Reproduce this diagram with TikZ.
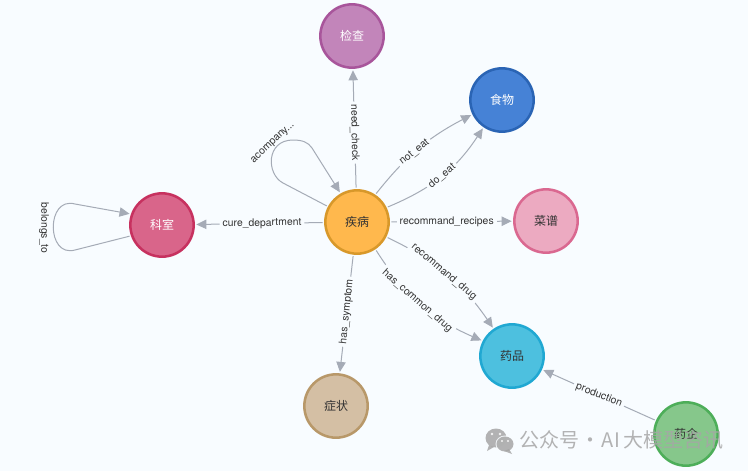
\documentclass[tikz,border=0pt]{standalone}
\usepackage{fontspec}
\setmainfont{TeX Gyre Heros}
\newfontfamily\cjk{Noto Sans CJK SC}
\usetikzlibrary{arrows.meta}
\definecolor{bgc}{HTML}{F8FCFF}
\definecolor{edgec}{HTML}{A5ABB6}
\definecolor{txtc}{HTML}{333333}
\definecolor{wmc}{HTML}{A6A6A6}
\definecolor{fdis}{HTML}{FFB84D}\definecolor{sdis}{HTML}{D8982A}
\definecolor{fjc}{HTML}{C285BA}\definecolor{sjc}{HTML}{A8559B}
\definecolor{fsw}{HTML}{4682D6}\definecolor{ssw}{HTML}{2A64B4}
\definecolor{fcp}{HTML}{ECAAC1}\definecolor{scp}{HTML}{DA6890}
\definecolor{fks}{HTML}{D9658A}\definecolor{sks}{HTML}{C7315F}
\definecolor{fyp}{HTML}{4DC0DF}\definecolor{syp}{HTML}{20A8D2}
\definecolor{fyq}{HTML}{86C78B}\definecolor{syq}{HTML}{4DAE59}
\definecolor{fzz}{HTML}{D4BFA4}\definecolor{szz}{HTML}{B89869}
\tikzset{
  ent/.style n args={3}{circle,draw=#2,fill=#1,line width=1.9pt,minimum size=47.5pt,inner sep=0pt,outer sep=2pt,text=#3,font=\cjk\fontsize{9}{11}\selectfont},
  rel/.style={draw=edgec,line width=0.75pt,-{Triangle[length=7.5pt,width=7pt]}},
  lab/.style={fill=bgc,inner sep=2.2pt,text=txtc,font=\fontsize{7.8}{9}\selectfont}
}
\begin{document}
\begin{tikzpicture}[x=0.75pt,y=-0.75pt]
\useasboundingbox[fill=bgc] (0,0) rectangle (748,471);
\node[ent={fdis}{sdis}{txtc}] (dis) at (357,222) {疾病};
\node[ent={fjc}{sjc}{white}] (jc) at (352,36) {检查};
\node[ent={fsw}{ssw}{white}] (sw) at (502,100) {食物};
\node[ent={fcp}{scp}{txtc}] (cp) at (546,221) {菜谱};
\node[ent={fks}{sks}{white}] (ks) at (162,225) {科室};
\node[ent={fyp}{syp}{txtc}] (yp) at (512,356) {药品};
\node[ent={fyq}{syq}{txtc}] (yq) at (686,434) {药企};
\node[ent={fzz}{szz}{txtc}] (zz) at (336,406) {症状};
\draw[rel] (dis) -- node[lab,rotate=-89,pos=.47]{need\_check} (jc);
\draw[rel] (dis.56) to[bend left=12] node[lab,rotate=38,pos=.45]{not\_eat} (sw.206);
\draw[rel] (dis.26) to[bend right=17] node[lab,rotate=40,pos=.5]{do\_eat} (sw.236);
\draw[rel] (dis) -- node[lab,pos=.46]{recommand\_recipes} (cp);
\draw[rel] (dis) -- node[lab,rotate=1,pos=.48]{cure\_department} (ks);
\draw[rel] (dis) -- node[lab,rotate=84,pos=.48]{has\_symptom} (zz);
\draw[rel] (dis.-27) to[bend left=15] node[lab,rotate=-40,pos=.47]{recommand\_drug} (yp.124);
\draw[rel] (dis.-56) to[bend right=17] node[lab,rotate=-41,pos=.46]{has\_common\_drug} (yp.153);
\draw[rel] (yq) -- node[lab,rotate=-21,pos=.5]{production} (yp);
\coordinate (a1) at (283,183);
\coordinate (a3) at (293,140);
\coordinate (a4) at (312,148);
\draw[rel] (dis.152) -- (a1) .. controls (266,174) and (266,140) .. (a3) .. controls (302,140) and (308,142) .. (a4) -- (dis.120);
\node[lab,fill=none,rotate=43] (acl) at (273,143) {acompany...};
\coordinate (b1) at (75,250);
\coordinate (b2) at (75,204);
\draw[rel] (ks.199) -- (b1) .. controls (46,258) and (46,196) .. (b2) -- (ks.161);
\node[lab,fill=none,rotate=-90] (bel) at (44,228) {belongs\_to};
% watermark
\begin{scope}[opacity=.85]
\fill[wmc] (496,438) ellipse [x radius=10.5,y radius=9.5];
\fill[wmc] (489,445) -- (487,451) -- (494,447) -- cycle;
\fill[white] (492,434) circle (1.4) (500,434) circle (1.4);
\fill[bgc] (505,444) ellipse [x radius=9.5,y radius=8.5];
\fill[wmc] (505,444) ellipse [x radius=8.5,y radius=7.5];
\fill[wmc] (509,449) -- (512,454) -- (504,451) -- cycle;
\fill[white] (502,441) circle (1.1) (508,441) circle (1.1);
\node[anchor=west,inner sep=0pt,text=wmc,font=\cjk\fontsize{15}{17}\selectfont] (wm) at (519,440) {公众号\hspace{1pt}·\hspace{1pt}AI\hspace{2.5pt}大模型咨讯};
\end{scope}
\end{tikzpicture}
\end{document}
